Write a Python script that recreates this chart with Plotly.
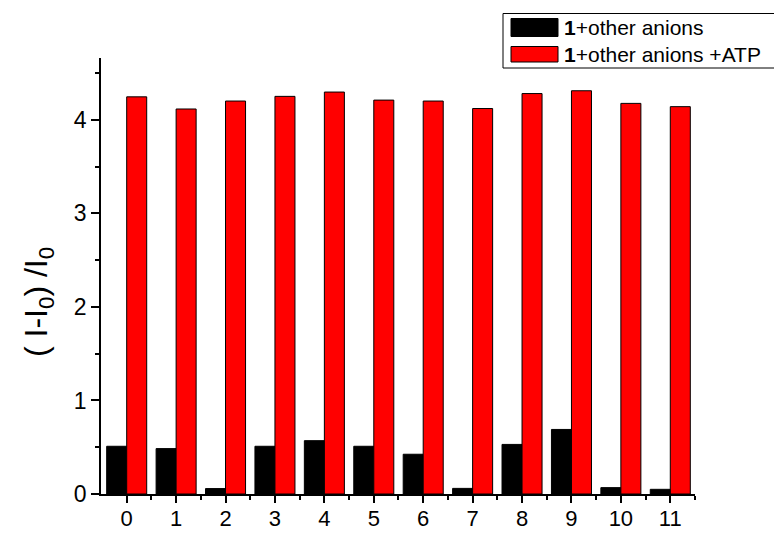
import plotly.graph_objects as go

# Sample index and response values
categories = list(range(12))
tick_labels = [str(c) for c in categories]
other_anions = [0.51, 0.485, 0.058, 0.51, 0.57, 0.51, 0.425, 0.06, 0.53, 0.69, 0.068, 0.05]
other_anions_atp = [4.245, 4.115, 4.20, 4.25, 4.296, 4.21, 4.20, 4.12, 4.28, 4.31, 4.175, 4.14]
series_names = ["<b>1</b>+other anions", "<b>1</b>+other anions +ATP"]
series_colors = ["#000000", "#ff0000"]

W, H = 774, 533
ML, MR, MT, MB = 101, 79, 58, 39
PW, PH = W - ML - MR, H - MT - MB
FONT = "Arial, 'Liberation Sans', sans-serif"


def px(xp):
    return (xp - ML) / PW


def py(yp):
    return (H - MB - yp) / PH


fig = go.Figure()
for name, vals, col in zip(series_names, [other_anions, other_anions_atp], series_colors):
    fig.add_trace(go.Bar(
        x=categories, y=vals, name=name,
        marker=dict(color=col, line=dict(color="#000000", width=1)),
        showlegend=False,
    ))

# Boxed legend with wide swatches
shapes = [dict(type="rect", xref="paper", yref="paper",
               x0=px(503), x1=px(777), y0=py(68), y1=py(13.5),
               line=dict(color="#000000", width=1), fillcolor="white", layer="above")]
annotations = []
rows = [(18.5, 36.5, 27.5), (46.5, 62, 55)]
for (top, bot, mid), name, col in zip(rows, series_names, series_colors):
    shapes.append(dict(type="rect", xref="paper", yref="paper",
                       x0=px(511), x1=px(558), y0=py(bot), y1=py(top),
                       line=dict(color="#000000", width=1), fillcolor=col, layer="above"))
    annotations.append(dict(xref="paper", yref="paper", x=px(562), y=py(mid),
                            xanchor="left", yanchor="middle", showarrow=False,
                            text=name, font=dict(family=FONT, size=21, color="#000000")))

# Rotated y-axis title
annotations.append(dict(xref="paper", yref="paper", x=px(38), y=py(302),
                        xanchor="center", yanchor="middle", showarrow=False, textangle=-90,
                        text="( I-I<sub>0</sub>) /I<sub>0</sub>",
                        font=dict(family=FONT, size=32, color="#000000")))

fig.update_layout(
    width=W, height=H,
    margin=dict(l=ML, r=MR, t=MT, b=MB, pad=0, autoexpand=False),
    paper_bgcolor="white", plot_bgcolor="white",
    barmode="group", bargap=0.19, bargroupgap=0,
    font=dict(family=FONT, size=23, color="#000000"),
    shapes=shapes, annotations=annotations,
    xaxis=dict(
        range=[-0.52, 11.5], tickmode="array", tickvals=categories, ticktext=tick_labels,
        automargin=False,
        showline=True, linecolor="#000000", linewidth=1.5, mirror=False,
        ticks="outside", ticklen=7, tickwidth=1.5, tickcolor="#000000",
        showgrid=False, zeroline=False,
        tickfont=dict(family=FONT, size=22), ticklabelstandoff=-3,
        minor=dict(tickmode="array", tickvals=[c + 0.5 for c in categories],
                   ticks="outside", ticklen=4, tickwidth=1.5, tickcolor="#000000", showgrid=False),
    ),
    yaxis=dict(
        range=[0, 4.66], tickmode="linear", tick0=0, dtick=1,
        automargin=False,
        showline=True, linecolor="#000000", linewidth=1.5,
        ticks="outside", ticklen=8, tickwidth=1.5, tickcolor="#000000",
        showgrid=False, zeroline=False,
        tickfont=dict(family=FONT, size=23),
        minor=dict(tick0=0.5, dtick=1, ticks="outside", ticklen=4, tickwidth=1.5,
                   tickcolor="#000000", showgrid=False),
    ),
)

fig.write_html("out.html")
